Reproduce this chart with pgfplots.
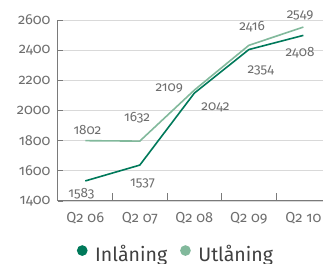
\documentclass[border=0pt]{standalone}
\usepackage{fontspec}
\setmainfont{Fira Sans}[Numbers=OldStyle]
\usepackage{pgfplots}
\pgfplotsset{compat=1.18}
\definecolor{inl}{HTML}{00795A}
\definecolor{utl}{HTML}{82B99C}
\definecolor{txt}{HTML}{6E6E6E}
\definecolor{axc}{HTML}{7A7A7A}
\begin{document}
\begin{tikzpicture}
\begin{axis}[
  scale only axis, width=265pt, height=181pt,
  xmin=-0.5, xmax=4.36, ymin=1400, ymax=2600,
  axis x line*=bottom, axis y line*=left,
  axis line style={axc, line width=1pt},
  xtick={0,1,2,3,4},
  xticklabels={Q2 06,Q2 07,Q2 08,Q2 09,Q2 10},
  major x tick style={draw=none},
  minor xtick={0.5,1.5,2.5,3.5},
  minor x tick style={axc, line width=0.8pt},
  minor tick length=8pt,
  ytick={1400,1600,...,2600},
  major y tick style={axc, line width=0.8pt},
  major tick length=5pt,
  ymajorgrids, grid style={gray!30, line width=0.8pt},
  /pgf/number format/assume math mode=true,
  /pgf/number format/1000 sep={},
  tick label style={txt, font=\fontsize{14.5}{15}\selectfont},
  yticklabel style={xshift=-4pt},
  xticklabel style={yshift=-8pt},
  clip=false,
  legend columns=2,
  legend style={draw=none, at={(0.445,-0.292)}, anchor=center,
    font=\fontsize{19.5}{20}\selectfont, text=black!75,
    /tikz/every even column/.style={column sep=11pt}},
  legend image code/.code={\fill[#1] (0pt,0.33em) circle (4.5pt); \path[draw=none,fill=none] (-4.5pt,0) -- (11pt,0);},
]
\coordinate (O) at (rel axis cs:0,0);
\addplot[inl, line width=1.6pt] coordinates {(0,1533) (1,1638) (2,2115) (3,2404) (4,2498)};
\addlegendentry{Inlåning}
\addplot[utl, line width=1.6pt] coordinates {(0,1800) (1,1797) (2,2135) (3,2432) (4,2553)};
\addlegendentry{Utlåning}
\begin{scope}[every node/.style={txt, font=\fontsize{13.5}{14}\selectfont}]
\node at (axis cs:0.04,1871) {1802};
\node at (axis cs:-0.07,1446) {1583};
\node at (axis cs:0.95,1950) {1632};
\node at (axis cs:1.05,1519) {1537};
\node at (axis cs:1.54,2149) {2109};
\node at (axis cs:2.39,2023) {2042};
\node at (axis cs:3.06,2554) {2416};
\node at (axis cs:3.22,2268) {2354};
\node at (axis cs:3.94,2627) {2549};
\node at (axis cs:3.94,2381) {2408};
\end{scope}
\end{axis}
\pgfresetboundingbox
\path (O) ++(-58pt,-63pt) rectangle ++(323pt,264pt);
\end{tikzpicture}
\end{document}
